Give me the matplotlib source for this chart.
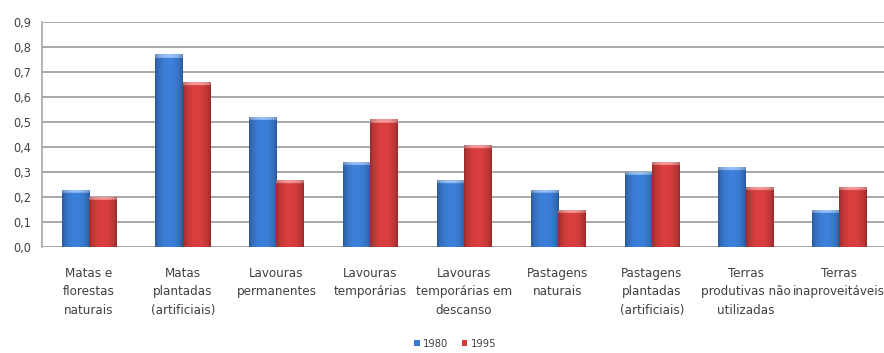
import numpy as np
import matplotlib.pyplot as plt
from matplotlib.colors import to_rgb
from matplotlib.ticker import FuncFormatter

categories = [
    "Matas e\nflorestas\nnaturais",
    "Matas\nplantadas\n(artificiais)",
    "Lavouras\npermanentes",
    "Lavouras\ntemporárias",
    "Lavouras\ntemporárias em\ndescanso",
    "Pastagens\nnaturais",
    "Pastagens\nplantadas\n(artificiais)",
    "Terras\nprodutivas não\nutilizadas",
    "Terras\ninaproveitáveis",
]
values_1980 = [0.23, 0.77, 0.52, 0.34, 0.27, 0.23, 0.30, 0.32, 0.15]
values_1995 = [0.20, 0.66, 0.27, 0.51, 0.41, 0.15, 0.34, 0.24, 0.24]
series_labels = ["1980", "1995"]

plt.rcParams['font.family'] = ['DejaVu Sans']
plt.rcParams['font.stretch'] = 'condensed'

fig = plt.figure(figsize=(8.84, 3.53), dpi=100)
ax = fig.add_axes([0.0475, 0.2995, 0.955, 0.639])


def shade_bar(ax, patch, base, bevel=0.015):
    # cylinder-like shading: darker at the sides, light bevel at the top
    x0, y0 = patch.get_x(), patch.get_y()
    bw, bh = patch.get_width(), patch.get_height()
    nx, ny = 40, 200
    t = np.linspace(0, 1, nx)
    across = 0.72 + 0.33 * np.sin(np.pi * t) ** 0.6
    yy = np.linspace(y0, y0 + bh, ny)
    rgb = np.array(to_rgb(base))
    img = np.clip(across[None, :, None] * rgb[None, None, :], 0, 1).repeat(ny, axis=0)
    top = yy >= y0 + bh - bevel
    light = rgb + (1 - rgb) * 0.4
    img[top] = np.clip(across[:, None] * light[None, :] * 1.05, 0, 1)
    img = img[::-1]
    im = ax.imshow(img, extent=(x0, x0 + bw, y0, y0 + bh), aspect='auto',
                   interpolation='bilinear', zorder=3)
    im.set_clip_path(patch)


x = np.arange(len(categories))
w = 0.29
colors = ["#3a7ad0", "#d03c3c"]
for i, (vals, c, lab) in enumerate(zip([values_1980, values_1995], colors, series_labels)):
    pos = x + (i - 0.5) * w
    bars = ax.bar(pos, vals, width=w, color=c, linewidth=0, label=lab, zorder=2)
    for b in bars:
        shade_bar(ax, b, c)

ax.set_xlim(-0.5, len(categories) - 0.5)
ax.set_ylim(0, 0.9)
ax.set_yticks(np.arange(0, 0.91, 0.1))
ax.yaxis.set_major_formatter(FuncFormatter(lambda v, p: f"{v:.1f}".replace(".", ",")))
ax.grid(axis='y', color='#a8a8a8', linewidth=1.4, zorder=0)
ax.set_axisbelow(True)
for s in ['top', 'right', 'bottom']:
    ax.spines[s].set_visible(False)
ax.spines['left'].set_color('#a8a8a8')
ax.spines['left'].set_linewidth(1.2)
ax.tick_params(axis='y', length=0, labelsize=9, colors='#404040', pad=8)
ax.tick_params(axis='x', length=0, labelsize=9.5, colors='#404040', pad=14)
ax.set_xticks(x)
ax.set_xticklabels(categories, linespacing=1.55)

fig.legend(loc='lower center', bbox_to_anchor=(0.515, -0.01), ncol=2, frameon=False,
           fontsize=8, handlelength=0.5, handleheight=0.5, handletextpad=0.3,
           columnspacing=1.2, labelcolor='#404040', borderpad=0.2)

fig.savefig('out.png', dpi=100)
